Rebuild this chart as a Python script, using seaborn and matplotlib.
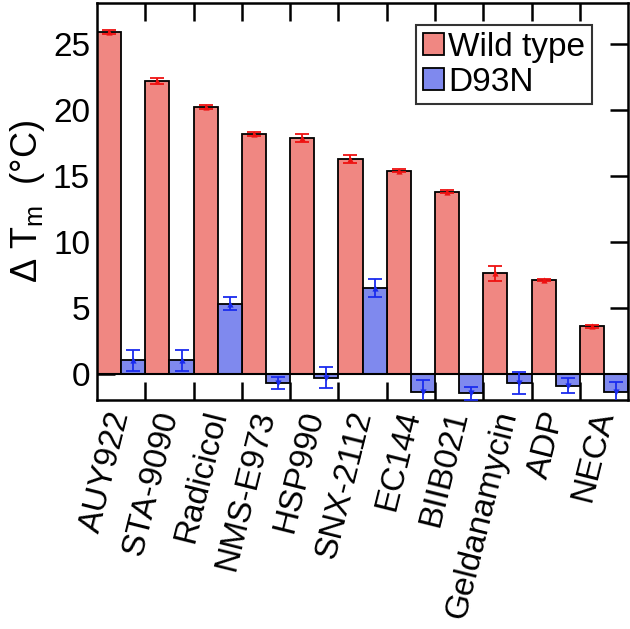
import numpy as np
import pandas as pd
import matplotlib
matplotlib.use("Agg")
import matplotlib.pyplot as plt
import seaborn as sns
from matplotlib.patches import Patch

compounds = ["AUY922", "STA-9090", "Radicicol", "NMS-E973", "HSP990", "SNX-2112",
             "EC144", "BIIB021", "Geldanamycin", "ADP", "NECA"]
wild_type = [25.9, 22.2, 20.2, 18.2, 17.9, 16.3, 15.4, 13.8, 7.6, 7.1, 3.6]
wild_err = [0.15, 0.2, 0.15, 0.15, 0.3, 0.3, 0.1, 0.1, 0.55, 0.1, 0.1]
d93n = [1.0, 1.0, 5.3, -0.7, -0.3, 6.5, -1.4, -1.5, -0.7, -0.9, -1.4]
d93n_err = [0.8, 0.8, 0.5, 0.45, 0.8, 0.65, 0.9, 0.5, 0.85, 0.6, 0.75]
series = ["Wild type", "D93N"]
colors = {"Wild type": "#f08782", "D93N": "#7f89ee"}
err_colors = {"Wild type": "#ee1111", "D93N": "#1a2bee"}

sns.set_style("ticks")
plt.rcParams["font.family"] = ["Liberation Sans", "DejaVu Sans"]
plt.rcParams["mathtext.fontset"] = "custom"
plt.rcParams["mathtext.rm"] = "Liberation Sans"
plt.rcParams["mathtext.it"] = "Liberation Sans"
plt.rcParams["text.color"] = "black"
plt.rcParams["axes.labelcolor"] = "black"
plt.rcParams["xtick.color"] = "black"
plt.rcParams["ytick.color"] = "black"
plt.rcParams["axes.edgecolor"] = "black"

df = pd.DataFrame({
    "compound": compounds * 2,
    "value": wild_type + d93n,
    "series": [series[0]] * len(compounds) + [series[1]] * len(compounds),
})

fig = plt.figure(figsize=(6.30, 6.29), dpi=100)
ax = fig.add_axes([0.154, 0.364, 0.843, 0.631])

sns.barplot(data=df, x="compound", y="value", hue="series", order=compounds,
            hue_order=series, palette=colors, saturation=1, width=1.0, errorbar=None,
            edgecolor="black", linewidth=1.3, ax=ax, legend=False, zorder=2)

x = np.arange(len(compounds))
for off, vals, errs, s in [(-0.25, wild_type, wild_err, series[0]),
                           (0.25, d93n, d93n_err, series[1])]:
    ax.errorbar(x + off, vals, yerr=errs, fmt="none", ecolor=err_colors[s],
                elinewidth=1.3, capsize=5, capthick=1.3, zorder=4)
    v = np.array(vals)
    ax.scatter((x + off)[v >= 0], v[v >= 0], marker="^", s=20, color=err_colors[s], zorder=5, linewidths=0)
    ax.scatter((x + off)[v < 0], v[v < 0], marker="v", s=20, color=err_colors[s], zorder=5, linewidths=0)

ax.axhline(0, color="black", lw=1.5, zorder=3)
ax.set_xlim(-0.5, len(compounds) - 0.5)
ax.set_ylim(-2.0, 28.1)
ax.set_yticks([0, 5, 10, 15, 20, 25])
ax.set_xticks(x)
ax.set_xticklabels(compounds, rotation=76, ha="right", va="center", rotation_mode="anchor", fontsize=24)
ax.set_xticks(np.arange(0.5, len(compounds) - 0.5, 1.0), minor=True)
ax.tick_params(axis="x", which="major", length=0, pad=8)
ax.tick_params(axis="x", which="minor", direction="in", length=13, width=1.8, top=True, bottom=True)
ax.tick_params(axis="y", which="major", direction="in", length=13, width=1.8, left=True, right=True,
               labelsize=24, pad=5)
ax.set_xlabel("")
ax.set_ylabel(r"Δ T$_{\mathrm{m}}$  (°C)", fontsize=26, labelpad=4)
for sp in ax.spines.values():
    sp.set_linewidth(1.8)
    sp.set_visible(True)

handles = [Patch(facecolor=colors[s], edgecolor="black", linewidth=1.3, label=s) for s in series]
leg = ax.legend(handles=handles, loc="upper right", bbox_to_anchor=(0.932, 0.945), fontsize=24,
                frameon=True, fancybox=False, edgecolor="black", handlelength=0.65,
                handleheight=0.65, handletextpad=0.12, borderpad=0.2, labelspacing=0.12,
                borderaxespad=0)
leg.get_frame().set_linewidth(1.5)

fig.savefig("out.png", dpi=100)
